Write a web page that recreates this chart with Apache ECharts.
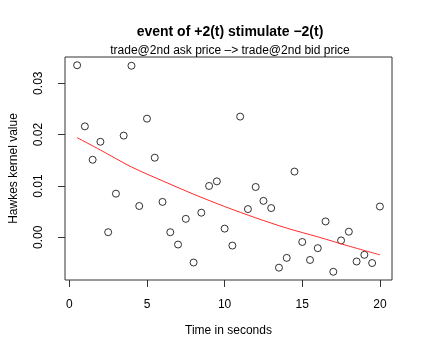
<!DOCTYPE html>
<html>
<head>
<meta charset="utf-8">
<script src="https://cdn.jsdelivr.net/npm/echarts@6/dist/echarts.min.js"></script>
<style>
  html, body { margin: 0; padding: 0; background: #fff; }
  #chart { width: 423px; height: 353px; }
</style>
</head>
<body>
<div id="chart"></div>
<script>
// kernel estimates
const times = [0.5, 1, 1.5, 2, 2.5, 3, 3.5, 4, 4.5, 5, 5.5, 6, 6.5, 7, 7.5, 8, 8.5, 9, 9.5, 10,
  10.5, 11, 11.5, 12, 12.5, 13, 13.5, 14, 14.5, 15, 15.5, 16, 16.5, 17, 17.5, 18, 18.5, 19, 19.5, 20];
const kernel = [0.0335, 0.0216, 0.0151, 0.0186, 0.0010, 0.0085, 0.0198, 0.0334, 0.0061, 0.0231,
  0.0155, 0.0069, 0.0010, -0.0014, 0.0036, -0.0049, 0.0048, 0.0100, 0.0109, 0.0017,
  -0.0016, 0.0235, 0.0055, 0.0098, 0.0071, 0.0057, -0.0059, -0.0040, 0.0128, -0.0009,
  -0.0044, -0.0021, 0.0031, -0.0067, -0.0006, 0.0011, -0.0047, -0.0034, -0.0050, 0.0060];

// fitted curve (red)
const fitT = [0.5, 2, 4, 6, 8, 10, 12, 14, 16, 18, 20];
const fitV = [0.0194, 0.0170, 0.0137, 0.0110, 0.0084, 0.0060, 0.0038, 0.0018, 0.0001, -0.0017, -0.0034];

const xTicks = [0, 5, 10, 15, 20];
const yTicks = [0, 0.01, 0.02, 0.03];

const chart = echarts.init(document.getElementById('chart'));
const font = 'Liberation Sans, Arial, sans-serif';

chart.setOption({
  animation: false,
  backgroundColor: '#fff',
  textStyle: { fontFamily: font },
  title: [
    {
      text: 'event of +2(t) stimulate \u22122(t)',
      left: 225, top: 20, textAlign: 'center',
      textStyle: { fontSize: 14, fontWeight: 'bold', color: '#000', fontFamily: font }
    },
    {
      text: 'trade@2nd ask price \u2013> trade@2nd bid price',
      left: 225, top: 40, textAlign: 'center',
      textStyle: { fontSize: 12, fontWeight: 'normal', color: '#000', fontFamily: font }
    }
  ],
  grid: {
    left: 57, top: 57, width: 335, height: 223,
    show: true, borderColor: '#333', borderWidth: 1, backgroundColor: 'transparent'
  },
  xAxis: {
    type: 'value',
    min: -0.28, max: 20.78,
    name: 'Time in seconds',
    nameLocation: 'middle',
    nameGap: 45,
    nameTextStyle: { fontSize: 12, color: '#000' },
    axisLine: { show: false, onZero: false },
    axisTick: { show: true, customValues: xTicks, length: 7, lineStyle: { color: '#333' } },
    axisLabel: { customValues: xTicks, fontSize: 12, color: '#000', margin: 19 },
    splitLine: { show: false }
  },
  yAxis: {
    type: 'value',
    min: -0.0083, max: 0.0351,
    name: 'Hawkes kernel value',
    nameLocation: 'middle',
    nameGap: 45,
    nameTextStyle: { fontSize: 12, color: '#000' },
    axisLine: { show: false, onZero: false },
    axisTick: { show: true, customValues: yTicks, length: 7, lineStyle: { color: '#333' } },
    axisLabel: {
      customValues: yTicks, fontSize: 12, color: '#000', rotate: 90, margin: 20,
      formatter: v => v.toFixed(2)
    },
    splitLine: { show: false }
  },
  series: [
    {
      type: 'scatter',
      data: times.map((t, i) => [t, kernel[i]]),
      symbol: 'circle',
      symbolSize: 7,
      itemStyle: { color: 'transparent', borderColor: '#000', borderWidth: 1 }
    },
    {
      type: 'line',
      data: fitT.map((t, i) => [t, fitV[i]]),
      smooth: 0.3,
      showSymbol: false,
      lineStyle: { color: '#ff2a2a', width: 1 }
    }
  ]
});
</script>
</body>
</html>
